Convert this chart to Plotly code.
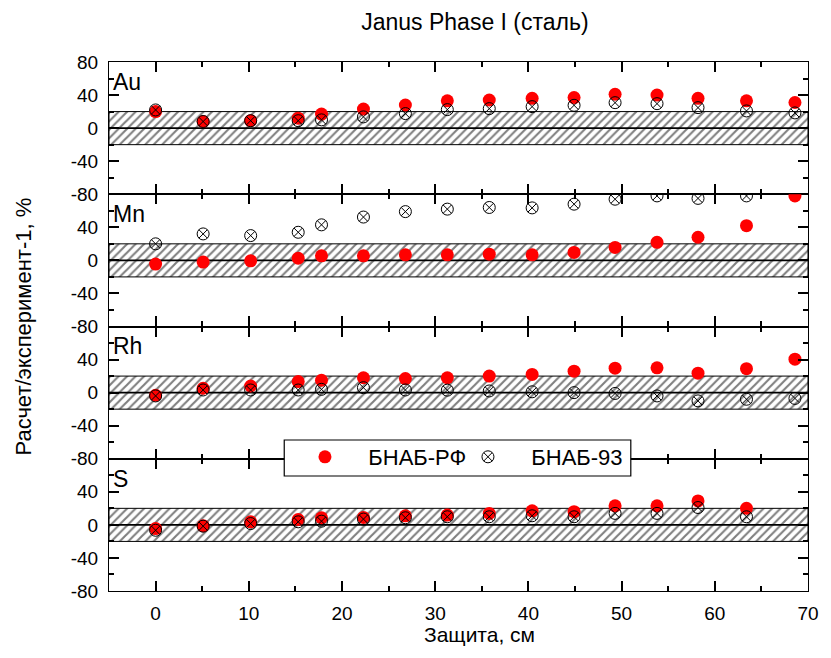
import plotly.graph_objects as go
from plotly.subplots import make_subplots

# ---------------- data ----------------
shield_cm = [0, 5.1, 10.2, 15.3, 17.8, 22.3, 26.8, 31.3, 35.8, 40.4, 44.9, 49.3, 53.8, 58.2, 63.4, 68.6]

panels = ["Au", "Mn", "Rh", "S"]

bnab_rf = {
    "Au": [20, 8, 9, 12, 17, 23, 28, 33, 34, 36, 37, 41, 40, 36, 33, 31],
    "Mn": [-4.5, -2, -0.6, 2.6, 5.5, 5.5, 6.7, 6.7, 7.5, 6.7, 9.6, 15.7, 21.8, 28, 42, 78],
    "Rh": [-3.2, 5.3, 8, 13.4, 15, 18, 17, 18, 20, 22, 26, 29.6, 30, 23.5, 29, 40.5],
    "S":  [-4.5, -1.2, 3.7, 6.5, 8.6, 9, 11, 11.8, 13.9, 17, 16, 23, 23, 29, 20, None],
}
bnab_93 = {
    "Au": [22, 8, 9, 9, 10, 13.6, 17.6, 22.4, 23.6, 26, 27.6, 30.8, 29.6, 24.8, 20.8, 18.4],
    "Mn": [20, 32, 30, 34, 43, 52.4, 59, 62, 64, 63.5, 68, 74, 78, 75, 78, None],
    "Rh": [-4, 3.2, 3.2, 3.2, 4, 6, 3.2, 3, 2, 1, 0, -1, -4, -10, -8, -7],
    "S":  [-6.5, -1.6, 1.6, 3.7, 4.5, 7, 8.6, 9.8, 9.8, 11, 9.8, 13.9, 13.9, 21, 9.8, None],
}

x_range = [-5, 70]
y_range = [-80, 80]
band = [-20, 20]
x_ticks = [0, 10, 20, 30, 40, 50, 60, 70]
x_minor = [5, 15, 25, 35, 45, 55, 65]
y_ticks = [-80, -40, 0, 40, 80]
y_minor = [-60, -20, 20, 60]

title = "Janus Phase I (сталь)"
x_title = "Защита, см"
y_title = "Расчет/эксперимент-1, %"
name_rf = "БНАБ-РФ"
name_93 = "БНАБ-93"

FONT = "Liberation Sans, Arial, sans-serif"
GAP = "\u00a0\u00a0\u00a0"

fig = make_subplots(rows=4, cols=1, shared_xaxes=True, vertical_spacing=0)

for i, p in enumerate(panels):
    r = i + 1
    # hatched band
    fig.add_trace(go.Scatter(
        x=[x_range[0], x_range[1], x_range[1], x_range[0], x_range[0]],
        y=[band[0], band[0], band[1], band[1], band[0]],
        mode="lines", fill="toself",
        line=dict(color="black", width=1),
        fillcolor="rgba(0,0,0,0)",
        fillpattern=dict(shape="/", fgcolor="black", bgcolor="white", size=6, solidity=0.35),
        showlegend=False, hoverinfo="skip"), row=r, col=1)
    # zero line
    fig.add_trace(go.Scatter(
        x=x_range, y=[0, 0], mode="lines",
        line=dict(color="black", width=1.8),
        showlegend=False, hoverinfo="skip"), row=r, col=1)
    fig.add_trace(go.Scatter(
        x=shield_cm, y=bnab_rf[p], mode="markers", name=GAP + name_rf,
        marker=dict(symbol="circle", size=13, color="red"),
        showlegend=(i == 0), legendrank=1), row=r, col=1)
    fig.add_trace(go.Scatter(
        x=shield_cm, y=bnab_93[p], mode="markers", name=GAP + name_93,
        marker=dict(symbol="circle-x-open", size=12, color="black", line=dict(width=1)),
        showlegend=(i == 0), legendrank=2), row=r, col=1)

    ticktext = [str(v) for v in y_ticks]
    if i > 0:
        ticktext[-1] = ""
    fig.update_yaxes(
        range=y_range, tickmode="array", tickvals=y_ticks, ticktext=ticktext,
        ticks="inside", ticklen=10, tickwidth=1.5, tickcolor="black",
        minor=dict(tickmode="array", tickvals=y_minor, ticks="inside",
                   ticklen=5, tickwidth=1.5, tickcolor="black", showgrid=False),
        showline=True, linecolor="black", linewidth=1.2, mirror="ticks",
        showgrid=False, zeroline=False, ticklabelstandoff=6,
        tickfont=dict(family=FONT, size=19, color="black"),
        row=r, col=1)
    fig.update_xaxes(
        range=x_range, tickmode="array", tickvals=x_ticks,
        ticks="inside", ticklen=10, tickwidth=1.5, tickcolor="black",
        minor=dict(tickmode="array", tickvals=x_minor, ticks="inside",
                   ticklen=5, tickwidth=1.5, tickcolor="black", showgrid=False),
        showline=True, linecolor="black", linewidth=1.2, mirror="ticks",
        showgrid=False, zeroline=False, showticklabels=(r == 4),
        ticklabelstandoff=5,
        tickfont=dict(family=FONT, size=19, color="black"),
        row=r, col=1)
    yref = "y" if r == 1 else f"y{r}"
    xref = "x" if r == 1 else f"x{r}"
    fig.add_annotation(text=p, xref=f"{xref} domain", yref=f"{yref} domain",
                       x=0.003, y=0.85, xanchor="left", yanchor="middle",
                       showarrow=False, font=dict(family=FONT, size=23, color="black"))

# legend frame
fig.add_shape(type="rect", xref="paper", yref="paper",
              x0=0.2507, x1=0.7465, y0=0.2174, y1=0.2854,
              fillcolor="white", line=dict(color="black", width=1.2), layer="above")

fig.add_annotation(text=y_title, xref="paper", yref="paper", x=-0.123, y=0.5,
                   xanchor="center", yanchor="middle", textangle=-90, showarrow=False,
                   font=dict(family=FONT, size=22, color="black"))
fig.add_annotation(text=x_title, xref="paper", yref="paper", x=0.53, y=-0.083,
                   xanchor="center", yanchor="middle", showarrow=False,
                   font=dict(family=FONT, size=21, color="black"))

fig.update_layout(
    width=831, height=658,
    margin=dict(l=109, r=12, t=62, b=67),
    paper_bgcolor="white", plot_bgcolor="white",
    title=dict(text=title, x=0.5715, xref="container", xanchor="center",
               y=1 - 22 / 658, yanchor="middle",
               font=dict(family=FONT, size=23, color="black")),
    legend=dict(orientation="h", x=0.2732, y=0.293, xanchor="left", yanchor="top",
                bgcolor="rgba(0,0,0,0)", borderwidth=0,
                font=dict(family=FONT, size=22, color="black"),
                entrywidth=108, itemwidth=40, itemsizing="trace"),
    showlegend=True,
)

fig.write_html("out.html")
